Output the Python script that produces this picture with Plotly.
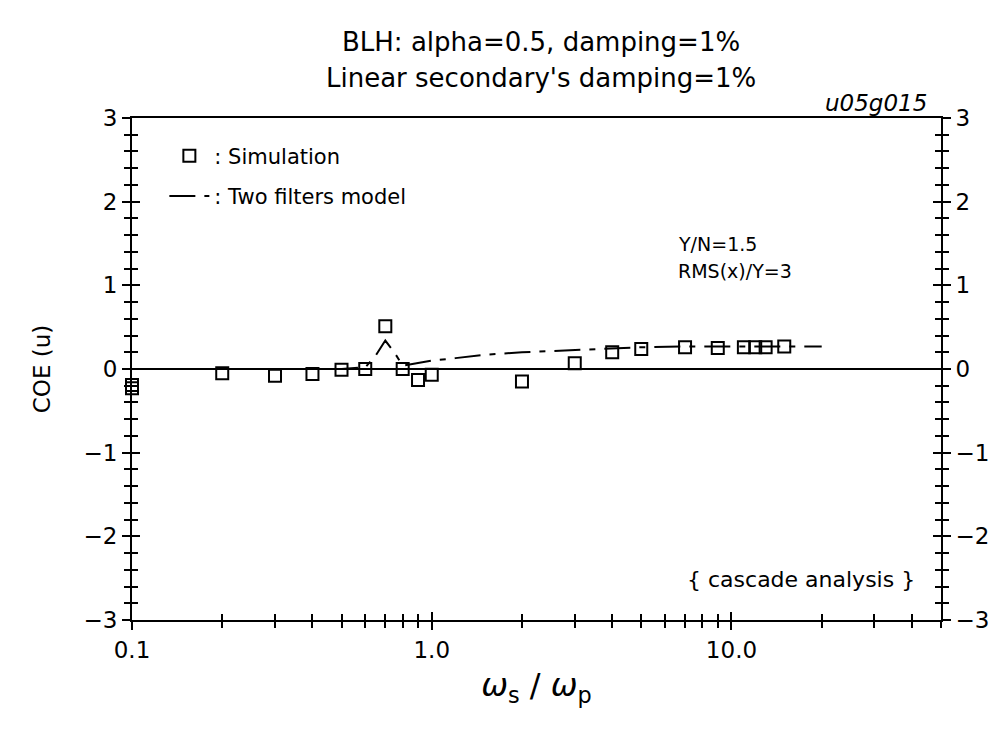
import plotly.graph_objects as go

# Simulated COE(u) values against the frequency ratio ws/wp
sim_ratio = [0.1, 0.1, 0.2, 0.3, 0.4, 0.5, 0.6, 0.7, 0.8, 0.9, 1.0, 2.0, 3.0,
             4.0, 5.0, 7.0, 9.0, 11.0, 12.0, 13.0, 15.0]
sim_coe = [-0.19, -0.23, -0.05, -0.08, -0.06, -0.01, 0.0, 0.51, 0.0, -0.13,
           -0.07, -0.15, 0.07, 0.20, 0.24, 0.26, 0.25, 0.26, 0.26, 0.26, 0.27]

# Two filters model curve
model_ratio = [0.1, 0.2, 0.3, 0.4, 0.5, 0.6, 0.65, 0.7, 0.75, 0.8, 0.9, 1.0,
               1.2, 1.5, 2.0, 3.0, 4.0, 5.0, 7.0, 10.0, 15.0, 20.0]
model_coe = [0.0, 0.0, 0.0, 0.0, 0.0, 0.02, 0.16, 0.34, 0.2, 0.04, 0.07, 0.1,
             0.13, 0.17, 0.2, 0.23, 0.25, 0.26, 0.27, 0.27, 0.27, 0.27]

x_major = [0.1, 1.0, 10.0]
x_major_text = ["0.1", "1.0", "10.0"]
x_minor = [0.2, 0.3, 0.4, 0.5, 0.6, 0.7, 0.8, 0.9,
           2, 3, 4, 5, 6, 7, 8, 9, 20, 30, 40, 50]
y_major = [-3, -2, -1, 0, 1, 2, 3]
y_minor = [round(-3 + 0.2 * i, 1) for i in range(31)]

FONT = "DejaVu Sans"
X_RANGE = [-1, 1.699]
Y_RANGE = [-3, 3]

fig = go.Figure()

fig.add_trace(go.Scatter(
    x=sim_ratio, y=sim_coe, mode="markers", name=": Simulation",
    legendgroup="sim", cliponaxis=False,
    marker=dict(symbol="square-open", size=12, color="black",
                line=dict(color="black", width=2)),
))
fig.add_trace(go.Scatter(
    x=model_ratio, y=model_coe, mode="lines", name=": Two filters model",
    legendgroup="model",
    line=dict(color="black", width=2, dash="26px,9px,6px,9px"),
))

# invisible helpers so the overlay axes (inside / right ticks) are drawn
for xa, ya in [("x2", "y"), ("x", "y2"), ("x", "y3"), ("x", "y4")]:
    fig.add_trace(go.Scatter(x=[1], y=[0], xaxis=xa, yaxis=ya, mode="markers",
                             marker=dict(opacity=0), showlegend=False,
                             hoverinfo="skip"))

tick_font = dict(family=FONT, size=23, color="black")

x_common = dict(type="log", range=X_RANGE, tickmode="array",
                tickvals=x_major, showgrid=False, zeroline=False,
                linecolor="black", linewidth=2, tickcolor="black",
                tickwidth=2, ticklen=8)
y_common = dict(range=Y_RANGE, tickmode="array", tickvals=y_major,
                showgrid=False, linecolor="black", linewidth=2,
                tickcolor="black", tickwidth=2, ticklen=8)

fig.update_layout(
    width=1005, height=734,
    margin=dict(l=132, r=64, t=118, b=114),
    paper_bgcolor="white", plot_bgcolor="white",
    font=dict(family=FONT, color="black"),
    showlegend=True,
    legend=dict(x=0.04, y=0.965, xanchor="left", yanchor="top",
                traceorder="grouped", bgcolor="rgba(0,0,0,0)",
                font=dict(family=FONT, size=21, color="black"),
                itemwidth=40, tracegroupgap=10),
    xaxis=dict(**x_common, ticks="outside", ticktext=x_major_text,
               tickfont=tick_font, mirror=True,
               minor=dict(tickmode="array", tickvals=x_minor, ticks="outside",
                          ticklen=6, tickwidth=1.5, tickcolor="black"),
               title=dict(text="<i>ω</i><sub>s</sub> / <i>ω</i><sub>p</sub>",
                          font=dict(family=FONT, size=32), standoff=12)),
    xaxis2=dict(**x_common, overlaying="x", side="bottom", anchor="y",
                ticks="inside", showticklabels=False,
                minor=dict(tickmode="array", tickvals=x_minor, ticks="inside",
                           ticklen=6, tickwidth=1.5, tickcolor="black")),
    yaxis=dict(**y_common, ticks="outside", tickfont=tick_font,
               zeroline=True, zerolinecolor="black", zerolinewidth=1.5,
               minor=dict(tickmode="array", tickvals=y_minor, ticks="outside",
                          ticklen=6, tickwidth=1.5, tickcolor="black"),
               title=dict(text="COE (u)", font=dict(family=FONT, size=23),
                          standoff=26)),
    yaxis2=dict(**y_common, overlaying="y", side="left", anchor="x",
                ticks="inside", showticklabels=False, zeroline=False,
                minor=dict(tickmode="array", tickvals=y_minor, ticks="inside",
                           ticklen=6, tickwidth=1.5, tickcolor="black")),
    yaxis3=dict(**y_common, overlaying="y", side="right", anchor="x",
                ticks="outside", tickfont=tick_font, zeroline=False,
                minor=dict(tickmode="array", tickvals=y_minor, ticks="outside",
                           ticklen=6, tickwidth=1.5, tickcolor="black")),
    yaxis4=dict(**y_common, overlaying="y", side="right", anchor="x",
                ticks="inside", showticklabels=False, zeroline=False,
                minor=dict(tickmode="array", tickvals=y_minor, ticks="inside",
                           ticklen=6, tickwidth=1.5, tickcolor="black")),
)

titles = [("BLH: alpha=0.5, damping=1%", 42),
          ("Linear secondary's damping=1%", 78)]
for text, ypix in titles:
    fig.add_annotation(text=text, xref="paper", yref="paper",
                       x=0.505, y=1 + (118 - ypix) / 502,
                       xanchor="center", yanchor="middle", showarrow=False,
                       font=dict(family=FONT, size=26, color="black"))

fig.add_annotation(text="<i>u05g015</i>", xref="paper", yref="paper",
                   x=0.985, y=1.0, xanchor="right", yanchor="bottom",
                   showarrow=False,
                   font=dict(family=FONT, size=23, color="black"))
fig.add_annotation(text="Y/N=1.5", xref="paper", yref="paper",
                   x=0.672, y=0.75, xanchor="left", yanchor="middle",
                   showarrow=False,
                   font=dict(family=FONT, size=19, color="black"))
fig.add_annotation(text="RMS(x)/Y=3", xref="paper", yref="paper",
                   x=0.672, y=0.695, xanchor="left", yanchor="middle",
                   showarrow=False,
                   font=dict(family=FONT, size=19, color="black"))
fig.add_annotation(text="{ cascade analysis }", xref="paper", yref="paper",
                   x=0.97, y=0.08, xanchor="right", yanchor="middle",
                   showarrow=False,
                   font=dict(family=FONT, size=22, color="black"))

fig.write_html("out.html")
